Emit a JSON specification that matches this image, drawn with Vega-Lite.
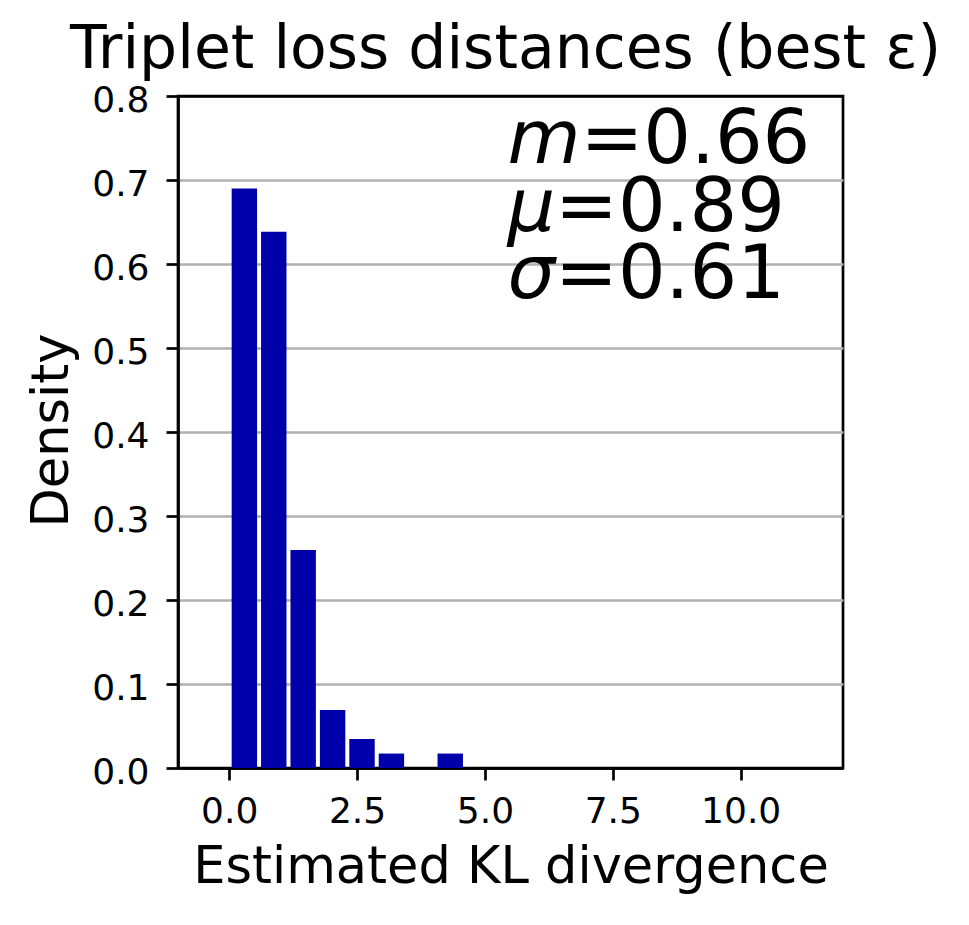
{
  "$schema": "https://vega.github.io/schema/vega-lite/v6.json",
  "width": 665,
  "height": 672,
  "autosize": {"type": "none"},
  "padding": {"left": 178, "top": 96, "right": 126, "bottom": 157},
  "background": "white",
  "title": {
    "text": "Triplet loss distances (best ε)",
    "font": "DejaVu Sans",
    "fontSize": 60,
    "fontWeight": "normal",
    "color": "black",
    "anchor": "middle",
    "frame": "group",
    "baseline": "alphabetic",
    "offset": 12,
    "dy": 58,
    "dx": -5
  },
  "datasets": {
    "hist": [
      {"bin_start": 0.0, "bin_end": 0.575, "density": 0.690},
      {"bin_start": 0.575, "bin_end": 1.15, "density": 0.6385},
      {"bin_start": 1.15, "bin_end": 1.725, "density": 0.2595},
      {"bin_start": 1.725, "bin_end": 2.3, "density": 0.069},
      {"bin_start": 2.3, "bin_end": 2.875, "density": 0.0345},
      {"bin_start": 2.875, "bin_end": 3.45, "density": 0.0172},
      {"bin_start": 3.45, "bin_end": 4.025, "density": 0},
      {"bin_start": 4.025, "bin_end": 4.6, "density": 0.0172}
    ],
    "stats": [
      {"stat": "m", "label": "=0.66"},
      {"stat": "μ", "label": "=0.89"},
      {"stat": "σ", "label": "=0.61"}
    ]
  },
  "layer": [
    {
      "data": {"name": "hist"},
      "mark": {"type": "bar", "color": "#0000aa", "binSpacing": 4},
      "encoding": {
        "x": {
          "field": "bin_start",
          "type": "quantitative",
          "bin": "binned",
          "scale": {"domain": [-1, 12], "nice": false, "zero": false},
          "axis": {
            "title": "Estimated KL divergence",
            "values": [0, 2.5, 5, 7.5, 10],
            "format": ".1f",
            "grid": false,
            "labelPadding": 42,
            "labelFlush": false,
            "labelOverlap": false,
            "titleX": 332.5,
            "titleY": 114,
            "titleAlign": "center"
          }
        },
        "x2": {"field": "bin_end"},
        "y": {
          "field": "density",
          "type": "quantitative",
          "scale": {"domain": [0, 0.8], "nice": false},
          "axis": {
            "title": "Density",
            "values": [0, 0.1, 0.2, 0.3, 0.4, 0.5, 0.6, 0.7, 0.8],
            "format": ".1f",
            "grid": true,
            "gridColor": {"condition": {"test": "datum.value <= 0 || datum.value >= 0.8", "value": "black"}, "value": "#b0b0b0"},
            "gridWidth": {"condition": {"test": "datum.value <= 0 || datum.value >= 0.8", "value": 2.7}, "value": 2.5},
            "labelPadding": 17,
            "labelOffset": 15,
            "labelFlush": false,
            "labelOverlap": false,
            "titleAngle": 270,
            "titleX": -111,
            "titleY": 334,
            "titleAlign": "center"
          }
        }
      }
    },
    {
      "data": {"name": "stats"},
      "mark": {"type": "text", "font": "DejaVu Sans", "fontSize": 75, "fontStyle": "italic", "align": "left", "baseline": "alphabetic", "color": "black"},
      "encoding": {
        "x": {"datum": 5.44, "title": null},
        "y": {"field": "stat", "type": "ordinal", "scale": {"type": "point", "domain": ["m", "μ", "σ"], "range": [67, 202.3], "padding": 0}, "axis": null},
        "text": {"field": "stat"}
      }
    },
    {
      "data": {"name": "stats"},
      "transform": [{"filter": "datum.stat === 'm'"}],
      "mark": {"type": "text", "font": "DejaVu Sans", "fontSize": 75, "align": "left", "baseline": "alphabetic", "color": "black"},
      "encoding": {
        "x": {"datum": 6.868, "title": null},
        "y": {"field": "stat", "type": "ordinal", "scale": {"type": "point", "domain": ["m", "μ", "σ"], "range": [67, 202.3], "padding": 0}, "axis": null},
        "text": {"field": "label"}
      }
    },
    {
      "data": {"name": "stats"},
      "transform": [{"filter": "datum.stat !== 'm'"}],
      "mark": {"type": "text", "font": "DejaVu Sans", "fontSize": 75, "align": "left", "baseline": "alphabetic", "color": "black"},
      "encoding": {
        "x": {"datum": 6.371, "title": null},
        "y": {"field": "stat", "type": "ordinal", "scale": {"type": "point", "domain": ["m", "μ", "σ"], "range": [67, 202.3], "padding": 0}, "axis": null},
        "text": {"field": "label"}
      }
    }
  ],
  "resolve": {"scale": {"y": "independent"}},
  "config": {
    "font": "DejaVu Sans",
    "view": {"stroke": "black", "strokeWidth": 2.7},
    "axis": {
      "domainColor": "black",
      "domainWidth": 2.7,
      "tickColor": "black",
      "tickWidth": 2.7,
      "tickSize": 12,
      "labelFont": "DejaVu Sans",
      "labelFontSize": 36,
      "labelColor": "black",
      "labelBaseline": "alphabetic",
      "titleFont": "DejaVu Sans",
      "titleFontSize": 51,
      "titleFontWeight": "normal",
      "titleColor": "black",
      "titleBaseline": "alphabetic",
      "zindex": 1
    }
  }
}
